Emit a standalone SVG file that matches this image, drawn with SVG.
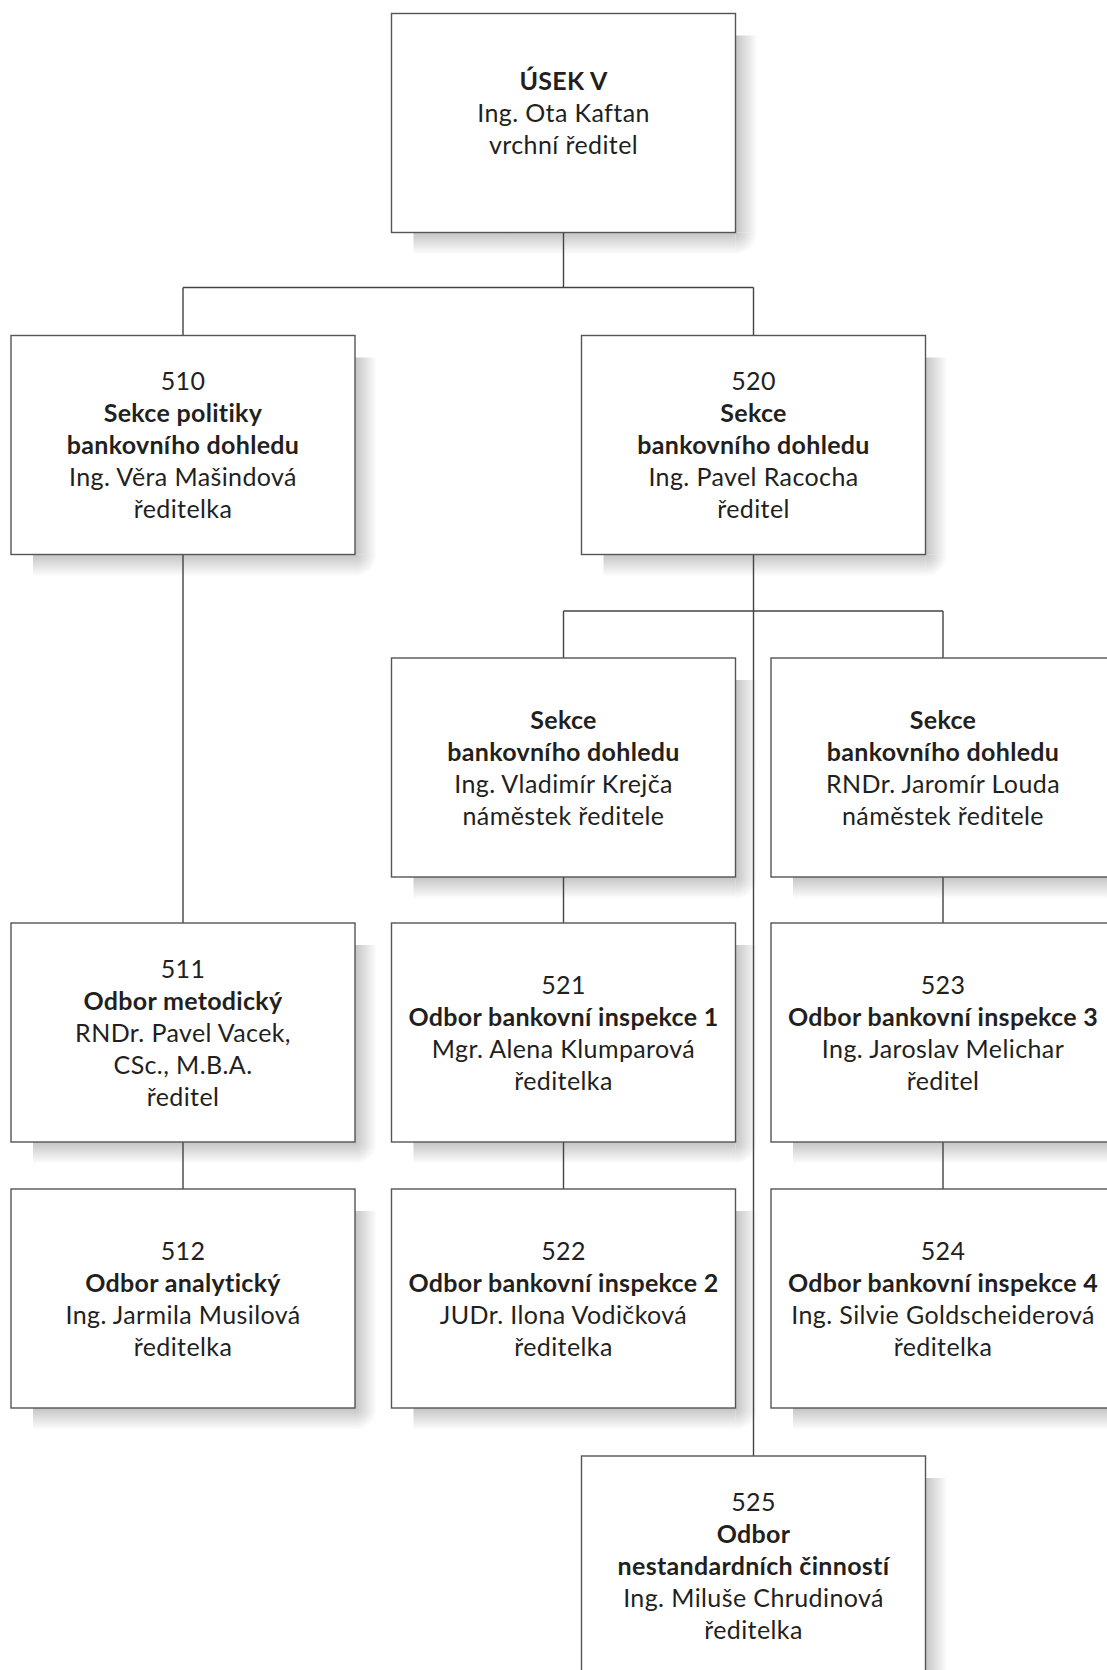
<svg xmlns="http://www.w3.org/2000/svg" width="1107" height="1670" viewBox="0 0 1107 1670">
<style>
.box{fill:#fff;stroke:#555;stroke-width:1.4}
.con{fill:none;stroke:#444;stroke-width:1.4}
.sr{fill:url(#gR)}
.sb{fill:url(#gB)}
.sc{fill:url(#gC)}
text{font-family:Lato,"Open Sans","Liberation Sans",sans-serif;font-size:25px;letter-spacing:0.4px;fill:#231f20;text-anchor:middle}
.b{font-weight:700;letter-spacing:0.3px}
</style>
<defs>
<linearGradient id="gR" x1="0" y1="0" x2="1" y2="0"><stop offset="0" stop-color="#c4c4c4"/><stop offset="1" stop-color="#c4c4c4" stop-opacity="0"/></linearGradient>
<linearGradient id="gB" x1="0" y1="0" x2="0" y2="1"><stop offset="0" stop-color="#c4c4c4"/><stop offset="1" stop-color="#c4c4c4" stop-opacity="0"/></linearGradient>
<radialGradient id="gC" cx="0" cy="0" r="1" fx="0" fy="0"><stop offset="0" stop-color="#c4c4c4"/><stop offset="1" stop-color="#c4c4c4" stop-opacity="0"/></radialGradient>
</defs>
<rect width="1107" height="1670" fill="#fff"/>
<g id="shadows">
<rect class="sr" x="735.5" y="35.5" width="22" height="197"/><rect class="sb" x="413.5" y="232.5" width="322" height="22"/><rect class="sc" x="735.5" y="232.5" width="22" height="22"/>
<rect class="sr" x="355" y="357.5" width="22" height="197"/><rect class="sb" x="33" y="554.5" width="322" height="22"/><rect class="sc" x="355" y="554.5" width="22" height="22"/>
<rect class="sr" x="925.5" y="357.5" width="22" height="197"/><rect class="sb" x="603.5" y="554.5" width="322" height="22"/><rect class="sc" x="925.5" y="554.5" width="22" height="22"/>
<rect class="sr" x="735.5" y="680" width="22" height="197"/><rect class="sb" x="413.5" y="877" width="322" height="22"/><rect class="sc" x="735.5" y="877" width="22" height="22"/>
<rect class="sb" x="793" y="877" width="322" height="22"/>
<rect class="sr" x="355" y="945" width="22" height="197"/><rect class="sb" x="33" y="1142" width="322" height="22"/><rect class="sc" x="355" y="1142" width="22" height="22"/>
<rect class="sr" x="735.5" y="945" width="22" height="197"/><rect class="sb" x="413.5" y="1142" width="322" height="22"/><rect class="sc" x="735.5" y="1142" width="22" height="22"/>
<rect class="sb" x="793" y="1142" width="322" height="22"/>
<rect class="sr" x="355" y="1211" width="22" height="197"/><rect class="sb" x="33" y="1408" width="322" height="22"/><rect class="sc" x="355" y="1408" width="22" height="22"/>
<rect class="sr" x="735.5" y="1211" width="22" height="197"/><rect class="sb" x="413.5" y="1408" width="322" height="22"/><rect class="sc" x="735.5" y="1408" width="22" height="22"/>
<rect class="sb" x="793" y="1408" width="322" height="22"/>
<rect class="sr" x="925.5" y="1478" width="22" height="197"/>
</g>
<g id="connectors">
<path class="con" d="M563.5 232.5V287.5M183 287.5H753.5M183 287.5V335.5M753.5 287.5V335.5"/>
<path class="con" d="M753.5 554.5V1456"/>
<path class="con" d="M563.5 611H943M563.5 611V658M943 611V658"/>
<path class="con" d="M183 554.5V923M183 1142V1189"/>
<path class="con" d="M563.5 877V923M563.5 1142V1189"/>
<path class="con" d="M943 877V923M943 1142V1189"/>
</g>
<g id="n-usek">
<rect class="box" x="391.5" y="13.5" width="344" height="219"/>
<text x="563.5" y="90" class="b">ÚSEK V</text>
<text x="563.5" y="122">Ing. Ota Kaftan</text>
<text x="563.5" y="154">vrchní ředitel</text>
</g>
<g id="n510">
<rect class="box" x="11" y="335.5" width="344" height="219"/>
<text x="183" y="390">510</text>
<text x="183" y="422" class="b">Sekce politiky</text>
<text x="183" y="454" class="b">bankovního dohledu</text>
<text x="183" y="486">Ing. Věra Mašindová</text>
<text x="183" y="518">ředitelka</text>
</g>
<g id="n520">
<rect class="box" x="581.5" y="335.5" width="344" height="219"/>
<text x="753.5" y="390">520</text>
<text x="753.5" y="422" class="b">Sekce</text>
<text x="753.5" y="454" class="b">bankovního dohledu</text>
<text x="753.5" y="486">Ing. Pavel Racocha</text>
<text x="753.5" y="518">ředitel</text>
</g>
<g id="n-krejca">
<rect class="box" x="391.5" y="658" width="344" height="219"/>
<text x="563.5" y="728.5" class="b">Sekce</text>
<text x="563.5" y="760.5" class="b">bankovního dohledu</text>
<text x="563.5" y="792.5">Ing. Vladimír Krejča</text>
<text x="563.5" y="824.5">náměstek ředitele</text>
</g>
<g id="n-louda">
<rect class="box" x="771" y="658" width="344" height="219"/>
<text x="943" y="728.5" class="b">Sekce</text>
<text x="943" y="760.5" class="b">bankovního dohledu</text>
<text x="943" y="792.5">RNDr. Jaromír Louda</text>
<text x="943" y="824.5">náměstek ředitele</text>
</g>
<g id="n511">
<rect class="box" x="11" y="923" width="344" height="219"/>
<text x="183" y="977.5">511</text>
<text x="183" y="1009.5" class="b">Odbor metodický</text>
<text x="183" y="1041.5">RNDr. Pavel Vacek,</text>
<text x="183" y="1073.5">CSc., M.B.A.</text>
<text x="183" y="1105.5">ředitel</text>
</g>
<g id="n521">
<rect class="box" x="391.5" y="923" width="344" height="219"/>
<text x="563.5" y="993.5">521</text>
<text x="563.5" y="1025.5" class="b">Odbor bankovní inspekce 1</text>
<text x="563.5" y="1057.5">Mgr. Alena Klumparová</text>
<text x="563.5" y="1089.5">ředitelka</text>
</g>
<g id="n523">
<rect class="box" x="771" y="923" width="344" height="219"/>
<text x="943" y="993.5">523</text>
<text x="943" y="1025.5" class="b">Odbor bankovní inspekce 3</text>
<text x="943" y="1057.5">Ing. Jaroslav Melichar</text>
<text x="943" y="1089.5">ředitel</text>
</g>
<g id="n512">
<rect class="box" x="11" y="1189" width="344" height="219"/>
<text x="183" y="1259.5">512</text>
<text x="183" y="1291.5" class="b">Odbor analytický</text>
<text x="183" y="1323.5">Ing. Jarmila Musilová</text>
<text x="183" y="1355.5">ředitelka</text>
</g>
<g id="n522">
<rect class="box" x="391.5" y="1189" width="344" height="219"/>
<text x="563.5" y="1259.5">522</text>
<text x="563.5" y="1291.5" class="b">Odbor bankovní inspekce 2</text>
<text x="563.5" y="1323.5">JUDr. Ilona Vodičková</text>
<text x="563.5" y="1355.5">ředitelka</text>
</g>
<g id="n524">
<rect class="box" x="771" y="1189" width="344" height="219"/>
<text x="943" y="1259.5">524</text>
<text x="943" y="1291.5" class="b">Odbor bankovní inspekce 4</text>
<text x="943" y="1323.5">Ing. Silvie Goldscheiderová</text>
<text x="943" y="1355.5">ředitelka</text>
</g>
<g id="n525">
<rect class="box" x="581.5" y="1456" width="344" height="219"/>
<text x="753.5" y="1510.5">525</text>
<text x="753.5" y="1542.5" class="b">Odbor</text>
<text x="753.5" y="1574.5" class="b">nestandardních činností</text>
<text x="753.5" y="1606.5">Ing. Miluše Chrudinová</text>
<text x="753.5" y="1638.5">ředitelka</text>
</g>
</svg>
